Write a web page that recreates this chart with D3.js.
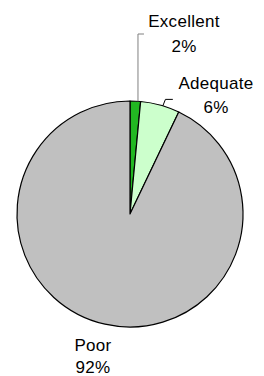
<!DOCTYPE html>
<html>
<head>
<meta charset="utf-8">
<script src="https://cdn.jsdelivr.net/npm/d3@7"></script>
<style>
  html, body { margin: 0; padding: 0; background: #fff; }
  svg { display: block; }
  text { font-family: "Liberation Sans", Arial, sans-serif; font-size: 17px; fill: #000; }
</style>
</head>
<body>
<svg id="chart" width="264" height="376"></svg>
<script>
// ---- data ----
const categories = ["Excellent", "Adequate", "Poor"];
const values = [1.5, 5.6, 92.9];
const percentLabels = ["2%", "6%", "92%"];
const colors = ["#22b822", "#ccffcc", "#c0c0c0"];

// ---- layout ----
const cx = 130, cy = 214, R = 113;
// label baseline positions relative to pie center (name line), and gap to percent line
const labelPos = [
  { x: 54, y: -187.3, gap: 25.3 },
  { x: 86, y: -124.7, gap: 24 },
  { x: -37, y: 136.5, gap: 22 }
];
// leader lines: angle fraction within slice
const leaderFrac = [0.75, 0.57];

const svg = d3.select("#chart");
const g = svg.append("g").attr("transform", `translate(${cx},${cy})`);

const pie = d3.pie().sort(null).value(d => d);
const arcs = pie(values);
const arc = d3.arc().innerRadius(0).outerRadius(R);

g.selectAll("path.slice")
  .data(arcs)
  .enter().append("path")
  .attr("class", "slice")
  .attr("d", arc)
  .attr("fill", (d, i) => colors[i])
  .attr("stroke", "#000")
  .attr("stroke-width", 1.2)
  .attr("stroke-linejoin", "round");

function edgePoint(d, frac) {
  const a = d.startAngle + (d.endAngle - d.startAngle) * frac;
  return [R * Math.sin(a), -R * Math.cos(a)];
}
// Excellent: vertical up then short horizontal
{
  const p = edgePoint(arcs[0], leaderFrac[0]);
  const topY = labelPos[0].y + 7.3;
  g.append("path")
    .attr("d", d3.line()([[p[0], p[1]], [p[0], topY], [p[0] + 6, topY]]))
    .attr("fill", "none").attr("stroke", "#808080").attr("stroke-width", 1);
}
// Adequate: short diagonal then horizontal
{
  const p = edgePoint(arcs[1], leaderFrac[1]);
  const elbowY = p[1] - 6.5;
  g.append("path")
    .attr("d", d3.line()([[p[0], p[1]], [p[0] + 2.6, elbowY], [p[0] + 10, elbowY]]))
    .attr("fill", "none").attr("stroke", "#000").attr("stroke-width", 1);
}

// labels
const lbl = g.selectAll("g.lbl")
  .data(arcs)
  .enter().append("g")
  .attr("class", "lbl")
  .attr("transform", (d, i) => `translate(${labelPos[i].x},${labelPos[i].y})`);

lbl.append("text")
  .attr("text-anchor", "middle")
  .attr("y", 0)
  .attr("letter-spacing", "0.3px")
  .text((d, i) => categories[i]);

lbl.append("text")
  .attr("text-anchor", "middle")
  .attr("y", (d, i) => labelPos[i].gap)
  .attr("letter-spacing", "0.3px")
  .text((d, i) => percentLabels[i]);
</script>
</body>
</html>
